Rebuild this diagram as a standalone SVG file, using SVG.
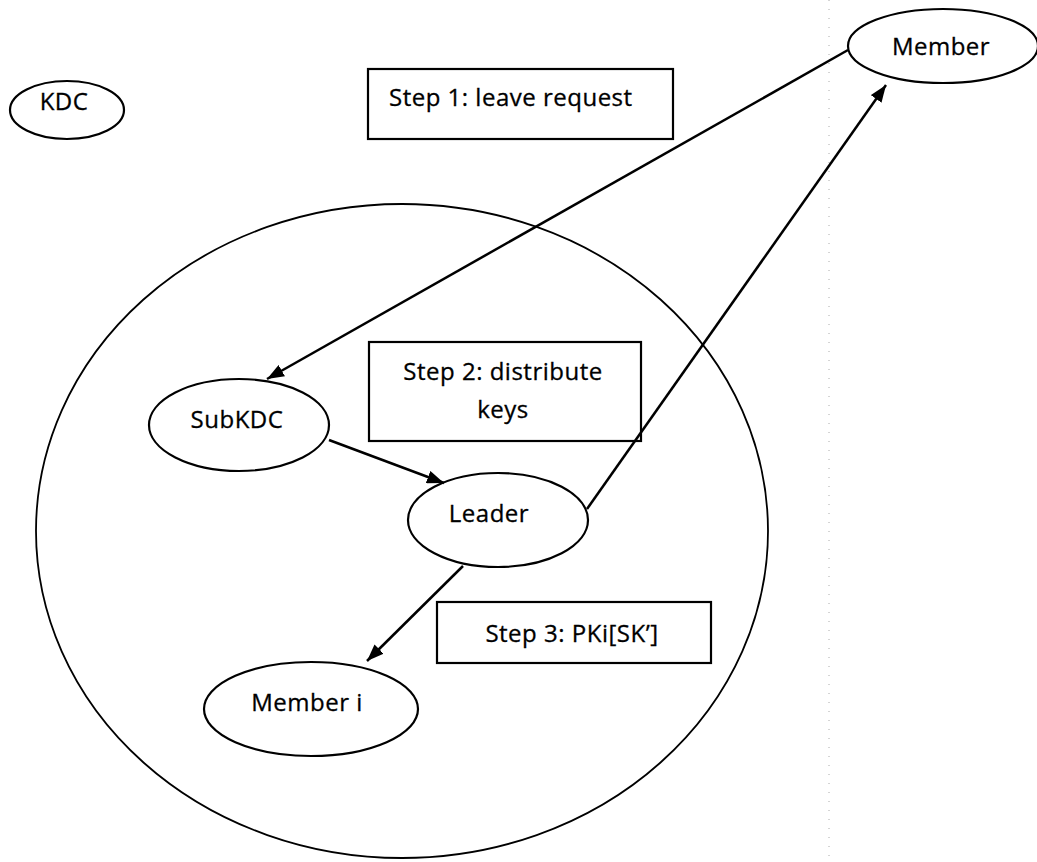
<svg xmlns="http://www.w3.org/2000/svg" width="1037" height="862" viewBox="0 0 1037 862">
  <defs>
    <marker id="arrow" viewBox="0 0 17 13" refX="17" refY="6.5" markerWidth="17" markerHeight="13" markerUnits="userSpaceOnUse" orient="auto">
      <path d="M0,0 L17,6.5 L0,13 z" fill="#000"/>
    </marker>
    <style>
      .node { fill: #fff; stroke: #000; stroke-width: 2.2; }
      .box { fill: #fff; stroke: #000; stroke-width: 2.2; }
      .label { font-family: "Open Sans", "Liberation Sans", Arial, sans-serif; font-size: 24px; letter-spacing: 0.5px; fill: #000; stroke: #000; stroke-width: 0.3; }
      .edge { stroke: #000; stroke-width: 2.5; fill: none; marker-end: url(#arrow); }
      .group { fill: none; stroke: #000; stroke-width: 1.8; }
    </style>
  </defs>
  <rect width="1037" height="862" fill="#fff"/>

  <!-- faint dotted page fold -->
  <line x1="829" y1="0" x2="829" y2="862" stroke="#aaa" stroke-width="1" stroke-dasharray="1 8"/>

  <!-- cluster boundary -->
  <g id="cluster">
    <ellipse class="group" cx="402" cy="531" rx="366" ry="327"/>
  </g>

  <g id="kdc">
    <ellipse class="node" cx="67" cy="110" rx="57" ry="29"/>
    <text class="label" x="64" y="110" text-anchor="middle">KDC</text>
  </g>

  <g id="member">
    <ellipse class="node" cx="943" cy="46" rx="95" ry="37"/>
    <text class="label" x="941" y="55" text-anchor="middle">Member</text>
  </g>

  <g id="step1">
    <rect class="box" x="368" y="69" width="305" height="70"/>
    <text class="label" x="389" y="106">Step 1: leave request</text>
  </g>

  <g id="step2">
    <rect class="box" x="369" y="342" width="272" height="99"/>
    <text class="label" x="503" y="380" text-anchor="middle">Step 2: distribute</text>
    <text class="label" x="503" y="418" text-anchor="middle">keys</text>
  </g>

  <g id="subkdc">
    <ellipse class="node" cx="239" cy="425" rx="90" ry="46"/>
    <text class="label" x="237" y="428" text-anchor="middle">SubKDC</text>
  </g>

  <g id="leader">
    <ellipse class="node" cx="498" cy="520" rx="90" ry="47"/>
    <text class="label" x="489" y="522" text-anchor="middle">Leader</text>
  </g>

  <g id="step3">
    <rect class="box" x="437" y="602" width="274" height="61"/>
    <text class="label" x="572" y="642" text-anchor="middle">Step 3: PKi[SK’]</text>
  </g>

  <g id="memberi">
    <ellipse class="node" cx="311" cy="709" rx="107" ry="47"/>
    <text class="label" x="307" y="711" text-anchor="middle">Member i</text>
  </g>

  <g id="connectors">
    <line class="edge" x1="848" y1="50" x2="267" y2="379"/>
    <line class="edge" x1="329" y1="440" x2="444" y2="483"/>
    <line class="edge" x1="587" y1="509" x2="886" y2="85"/>
    <line class="edge" x1="463" y1="566" x2="367" y2="661"/>
  </g>
</svg>
